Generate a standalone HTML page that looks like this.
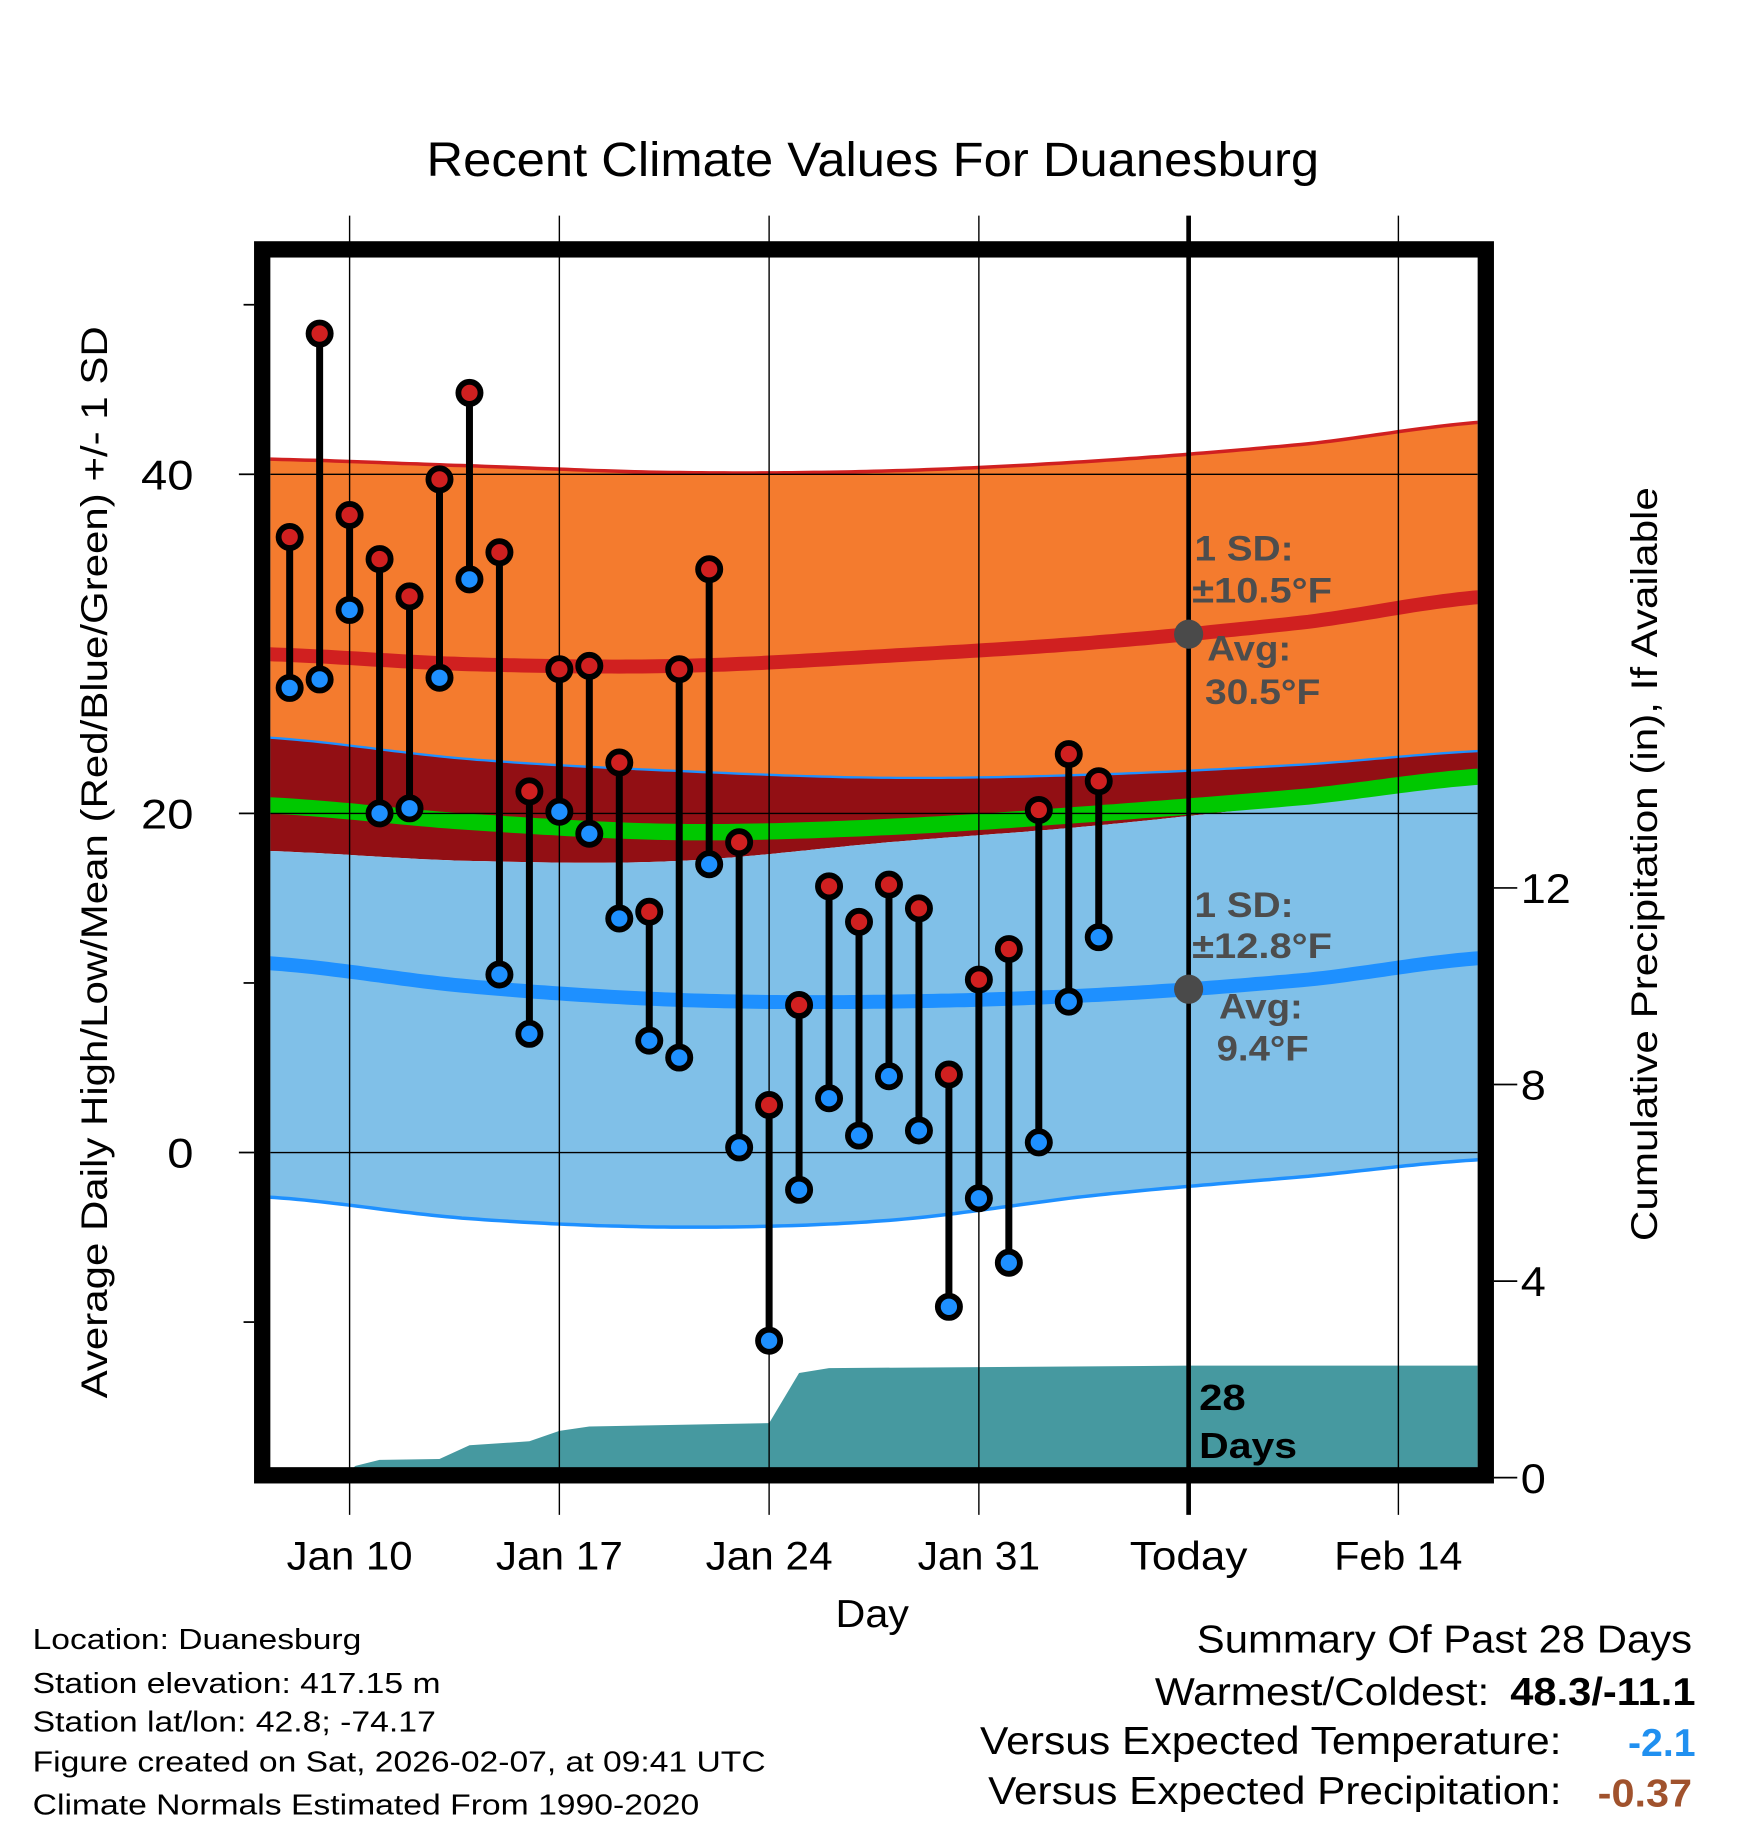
<!DOCTYPE html>
<html><head><meta charset="utf-8"><style>
html,body{margin:0;padding:0;background:#fff;}
svg{display:block;font-family:"Liberation Sans",Arial,sans-serif;}
</style></head><body>
<svg id="chart" width="1748" height="1828" viewBox="0 0 1500 1568.65" xmlns="http://www.w3.org/2000/svg">
<defs><clipPath id="plotclip"><rect x="232" y="221" width="1036" height="1039"/></clipPath></defs>
<rect width="1500" height="1569" fill="#fff"/>
<text x="366" y="151" font-size="41" textLength="766" lengthAdjust="spacingAndGlyphs">Recent Climate Values For Duanesburg</text>
<g id="plot" clip-path="url(#plotclip)"></g>
<g id="overlay"></g>
<text transform="translate(92,1200) rotate(-90)" font-size="32" textLength="920" lengthAdjust="spacingAndGlyphs">Average Daily High/Low/Mean (Red/Blue/Green) +/- 1 SD</text>
<text transform="translate(1422,1065) rotate(-90)" font-size="32" textLength="647" lengthAdjust="spacingAndGlyphs">Cumulative Precipitation (in), If Available</text>
<text x="717" y="1396" font-size="33" textLength="63" lengthAdjust="spacingAndGlyphs">Day</text>
<g font-size="25">
<text x="28" y="1415" textLength="282" lengthAdjust="spacingAndGlyphs">Location: Duanesburg</text>
<text x="28" y="1453" textLength="350" lengthAdjust="spacingAndGlyphs">Station elevation: 417.15 m</text>
<text x="28" y="1486" textLength="346" lengthAdjust="spacingAndGlyphs">Station lat/lon: 42.8; -74.17</text>
<text x="28" y="1520" textLength="629" lengthAdjust="spacingAndGlyphs">Figure created on Sat, 2026-02-07, at 09:41 UTC</text>
<text x="28" y="1557" textLength="572" lengthAdjust="spacingAndGlyphs">Climate Normals Estimated From 1990-2020</text>
</g>
<g font-size="33">
<text x="1027" y="1418" textLength="425" lengthAdjust="spacingAndGlyphs">Summary Of Past 28 Days</text>
<text x="991" y="1463" textLength="287" lengthAdjust="spacingAndGlyphs">Warmest/Coldest:</text>
<text x="1296" y="1463" font-weight="bold" textLength="159" lengthAdjust="spacingAndGlyphs">48.3/-11.1</text>
<text x="841" y="1505" textLength="499" lengthAdjust="spacingAndGlyphs">Versus Expected Temperature:</text>
<text x="1397" y="1507" font-weight="bold" fill="#2090f0" textLength="58" lengthAdjust="spacingAndGlyphs">-2.1</text>
<text x="848" y="1548" textLength="492" lengthAdjust="spacingAndGlyphs">Versus Expected Precipitation:</text>
<text x="1371" y="1550" font-weight="bold" fill="#a0522d" textLength="81" lengthAdjust="spacingAndGlyphs">-0.37</text>
</g>
</svg>
<script>
// Observed data (day index 0 = Jan 10)
const obsDays=[-2,-1,0,1,2,3,4,5,6,7,8,9,10,11,12,13,14,15,16,17,18,19,20,21,22,23,24,25];
const highs=[36.3,48.3,37.6,35.0,32.8,39.7,44.8,35.4,21.3,28.5,28.7,23.0,14.2,28.5,34.4,18.3,2.8,8.7,15.7,13.6,15.8,14.4,4.6,10.2,12.0,20.2,23.5,21.9];
const lows=[27.4,27.9,32.0,20.0,20.3,28.0,33.8,10.5,7.0,20.1,18.8,13.8,6.6,5.6,17.0,0.3,-11.1,-2.2,3.2,1.0,4.5,1.3,-9.1,-2.7,-6.5,0.6,8.9,12.7];
// Normals
const normDays=[-3,4,11,18,25,32,38];
const highUpper=[40.9,40.5,40.1,40.2,40.8,41.8,43.1];
const normHigh=[29.4,28.8,28.7,29.3,30.1,31.3,32.8];
const highLower=[24.5,23.2,22.5,22.1,22.3,22.9,23.7];
const normMean=[20.5,19.5,18.9,19.2,20.0,21.0,22.2];
const lowUpper=[17.8,17.2,17.2,18.3,19.3,20.7,22.6];
const normLow=[11.2,9.8,9.0,8.9,9.3,10.2,11.5];
const lowLower=[-2.6,-3.9,-4.4,-4.0,-2.5,-1.4,-0.4];
// Precipitation
const precipDays=[-0.3,0.2,1,3,4,6,7,8,14,15,16,28,38];
const precipVals=[0,0.24,0.36,0.38,0.66,0.74,0.95,1.04,1.11,2.13,2.23,2.28,2.28];
// Axes ticks
const xTickDays=[0,7,14,21,28,35];
const xTickLabels=["Jan 10","Jan 17","Jan 24","Jan 31","Today","Feb 14"];
const yTicks=[0,20,40];
const yMinor=[-10,10,50];
const pTicks=[0,4,8,12];

const X=d=>300+d*25.714;
const Y=v=>989-v*14.55;
const P=v=>1268-v*42.17;
const NS="http://www.w3.org/2000/svg";
function mk(tag,attrs,parent){const e=document.createElementNS(NS,tag);for(const k in attrs)e.setAttribute(k,attrs[k]);parent.appendChild(e);return e;}
function interp(xs,ys,x){
  let i=0;while(i<xs.length-2&&x>xs[i+1])i++;
  const t=(x-xs[i])/(xs[i+1]-xs[i]);
  const p0=ys[Math.max(i-1,0)],p1=ys[i],p2=ys[i+1],p3=ys[Math.min(i+2,ys.length-1)];
  const t2=t*t,t3=t2*t;
  return 0.5*((2*p1)+(-p0+p2)*t+(2*p0-5*p1+4*p2-p3)*t2+(-p0+3*p1-3*p2+p3)*t3);
}
function curve(arr){const pts=[];for(let d=-3;d<=38.001;d+=0.25)pts.push([X(d),Y(interp(normDays,arr,d))]);return pts;}
const ptsStr=p=>p.map(q=>q[0].toFixed(1)+","+q[1].toFixed(1)).join(" ");
function band(a,b){return ptsStr(curve(a))+" "+ptsStr(curve(b).reverse());}
const plot=document.getElementById('plot');
const ov=document.getElementById('overlay');
const svg=document.getElementById('chart');

let e;
e=mk('polygon',{points:band(highUpper,highLower),fill:'#f47b2e'},plot);


e=mk('polygon',{points:band(highLower,lowUpper),fill:'#920f14'},plot);


e=mk('polygon',{points:band(lowUpper,lowLower),fill:'#80c0e8'},plot);


e=mk('polyline',{points:ptsStr(curve(normMean)),fill:'none',stroke:'#00c800','stroke-width':14},plot);


e=mk('polyline',{points:ptsStr(curve(highUpper)),fill:'none',stroke:'#d02020','stroke-width':3},plot);


e=mk('polyline',{points:ptsStr(curve(highLower)),fill:'none',stroke:'#1e90ff','stroke-width':2},plot);


e=mk('polyline',{points:ptsStr(curve(lowLower)),fill:'none',stroke:'#1e90ff','stroke-width':3},plot);


e=mk('polyline',{points:ptsStr(curve(normHigh)),fill:'none',stroke:'#d02020','stroke-width':12},plot);


e=mk('polyline',{points:ptsStr(curve(normLow)),fill:'none',stroke:'#1e90ff','stroke-width':12},plot);



let pp=precipDays.map((d,i)=>[X(d),P(precipVals[i])]);
pp.push([X(38),1262]);pp.push([X(precipDays[0]),1262]);
e=mk('polygon',{points:ptsStr(pp),fill:'#4699a0'},plot);



yTicks.forEach(v=>{
  const g=mk('line',{x1:232,x2:1268,y1:Y(v),y2:Y(v),stroke:'#000','stroke-width':1.2},plot);
  
  
});
const xLabLen=[108,109,109,105,101,110];
xTickDays.forEach((d,i)=>{
  const g=mk('line',{x1:X(d),x2:X(d),y1:185,y2:1300,stroke:'#000','stroke-width':d===28?4:1.2},ov);
  
  
  const t=mk('text',{x:X(d)-xLabLen[i]/2,y:1347,'font-size':34,textLength:xLabLen[i],lengthAdjust:'spacingAndGlyphs'},svg);
  t.textContent=xTickLabels[i];
  
  
});

obsDays.forEach((d,i)=>{
  const x=X(d);
  const l=mk('line',{x1:x,x2:x,y1:Y(highs[i]),y2:Y(lows[i]),stroke:'#000','stroke-width':6},ov);
  
  
  const c1=mk('circle',{cx:x,cy:Y(highs[i]),r:9.5,fill:'#d02020',stroke:'#000','stroke-width':5},ov);
  
  
  const c2=mk('circle',{cx:x,cy:Y(lows[i]),r:9.5,fill:'#1e90ff',stroke:'#000','stroke-width':5},ov);
  
  
});

[[interp(normDays,normHigh,28),'today-avg-high-dot'],[interp(normDays,normLow,28),'today-avg-low-dot']].forEach(a=>{
  const c=mk('circle',{cx:X(28),cy:Y(a[0]),r:12.5,fill:'#4a4a4a'},ov);
  
  
});
const labels=[["1 SD:",1025,481,85],["\u00b110.5\u00b0F",1023,517,120],["Avg:",1036,567,72],["30.5\u00b0F",1034,604,99],["1 SD:",1025,787,85],["\u00b112.8\u00b0F",1023,822,120],["Avg:",1046,874,72],["9.4\u00b0F",1044,910,79]];
labels.forEach(a=>{
  const t=mk('text',{x:a[1],y:a[2],'font-size':30,'font-weight':'bold',fill:'#4d4d4d',textLength:a[3],lengthAdjust:'spacingAndGlyphs'},ov);
  t.textContent=a[0];
  
  
});
[["28",1210,40],["Days",1251,84]].forEach(a=>{
  const t=mk('text',{x:1029,y:a[1],'font-size':31,'font-weight':'bold',fill:'#000',textLength:a[2],lengthAdjust:'spacingAndGlyphs'},ov);
  t.textContent=a[0];
  
  
});

e=mk('rect',{x:225,y:214,width:1050,height:1052,fill:'none',stroke:'#000','stroke-width':14},ov);



yTicks.forEach(v=>{
  mk('line',{x1:205,x2:218,y1:Y(v),y2:Y(v),stroke:'#000','stroke-width':1.5},ov);
  const s=String(v);
  const w=s.length*22.5;
  const t=mk('text',{x:166-w,y:Y(v)+13,'font-size':36,textLength:w,lengthAdjust:'spacingAndGlyphs'},svg);
  t.textContent=s;
  
  
});
yMinor.forEach(v=>{mk('line',{x1:209,x2:218,y1:Y(v),y2:Y(v),stroke:'#000','stroke-width':1.5},ov);});
pTicks.forEach(v=>{
  mk('line',{x1:1282,x2:1302,y1:P(v),y2:P(v),stroke:'#000','stroke-width':1.5},ov);
  const s=String(v);
  const t=mk('text',{x:1305,y:P(v)+13,'font-size':36,textLength:s.length*21.5,lengthAdjust:'spacingAndGlyphs'},svg);
  t.textContent=s;
  
  
});
</script>
</body></html>
